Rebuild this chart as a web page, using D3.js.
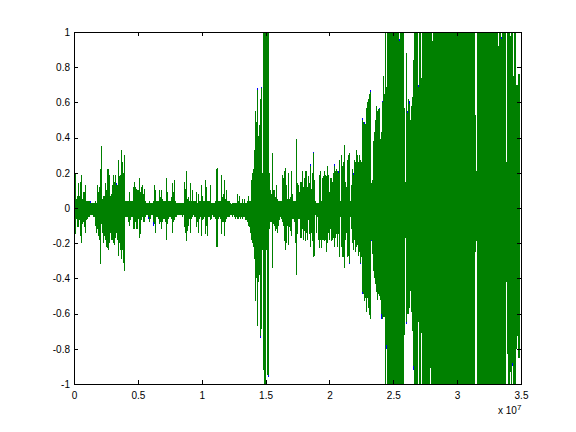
<!DOCTYPE html>
<html><head><meta charset="utf-8">
<script src="https://cdn.jsdelivr.net/npm/d3@7"></script>
<style>
html,body{margin:0;padding:0;background:#fff}
svg{display:block}
text{font-family:"Liberation Sans",Arial,sans-serif;font-size:10px;fill:#000}
</style></head><body><div id="chart"></div>
<script>
const xTicks=[0,0.5e7,1e7,1.5e7,2e7,2.5e7,3e7,3.5e7];
const xTickLabels=["0","0.5","1","1.5","2","2.5","3","3.5"];
const yTicks=[-1,-0.8,-0.6,-0.4,-0.2,0,0.2,0.4,0.6,0.8,1];
const yTickLabels=["-1","-0.8","-0.6","-0.4","-0.2","0","0.2","0.4","0.6","0.8","1"];
const sampleStep=3.5e7/447;
// envelope per sample bin, in hundredths of full scale
const upperEnvelope=[
20,20,5,7,14,7,15,19,5,9,9,13,4,4,4,4,3,3,3,3,
3,4,3,13,9,12,22,35,5,7,7,14,10,22,22,19,7,8,13,19,
15,19,13,13,27,18,19,33,26,20,30,4,4,4,4,9,4,4,4,12,
15,12,11,10,10,17,9,12,13,8,11,4,3,3,3,4,3,3,3,4,
13,10,4,4,4,10,6,10,5,4,4,4,17,9,4,4,4,6,14,9,
16,4,3,3,3,3,3,3,3,3,15,11,21,5,6,4,14,4,10,4,
4,4,9,3,8,4,4,13,7,4,4,16,12,4,4,4,13,3,3,3,
3,4,22,23,4,4,4,19,6,8,16,5,10,4,4,4,3,2,3,3,
3,3,3,8,4,7,3,3,5,3,5,3,3,4,7,4,4,16,20,22,
33,55,49,67,41,47,62,68,20,100,100,100,98,100,100,20,10,8,31,10,
10,6,13,5,4,4,4,4,19,17,21,23,13,5,20,5,6,21,8,4,
4,4,39,14,13,9,15,15,21,12,17,21,21,12,18,14,24,11,20,31,
16,4,3,3,3,19,21,4,17,18,21,19,18,24,19,9,17,17,15,20,
24,21,22,21,20,27,4,30,24,26,36,15,12,27,30,31,4,13,22,19,
27,26,33,30,26,30,27,26,50,49,48,48,57,60,62,65,66,14,16,38,
43,50,58,55,56,56,39,43,60,75,65,100,69,100,100,100,100,100,100,100,
100,100,100,100,100,95,100,100,100,100,57,15,88,54,62,59,50,58,63,84,
100,100,100,100,69,100,100,74,100,100,100,100,100,100,100,100,100,100,95,100,
100,100,100,100,100,100,100,100,100,100,100,100,100,100,100,100,100,100,100,100,
100,100,100,100,100,100,100,100,100,100,100,100,100,100,100,100,100,100,100,100,
100,53,21,100,100,100,100,100,100,100,100,100,100,100,100,100,100,100,100,100,
100,100,100,100,92,100,100,96,100,100,100,100,26,100,100,100,98,100,100,75,
100,100,70,70,76,76];
const lowerEnvelope=[
15,15,6,11,11,7,16,20,9,8,11,14,7,6,5,5,4,4,4,5,
5,10,14,12,16,18,32,9,14,20,16,18,22,23,24,20,14,18,18,20,
21,17,14,18,27,20,24,29,24,31,36,5,5,5,8,10,7,5,5,12,
12,8,12,12,6,17,15,7,5,8,8,5,4,4,5,8,6,4,4,8,
9,14,5,5,6,9,8,12,8,6,6,8,18,9,6,5,5,6,14,8,
7,5,5,4,4,4,4,4,5,4,11,14,19,13,10,6,14,6,5,4,
5,5,11,8,14,6,5,16,7,6,5,15,10,16,5,5,7,6,4,5,
5,6,22,22,6,5,6,15,8,8,16,8,6,5,5,5,4,4,5,4,
5,6,5,6,6,5,6,5,6,5,5,7,7,8,10,11,14,18,20,22,
29,53,40,67,42,38,73,69,24,92,100,100,24,95,95,12,8,8,34,9,
10,13,12,14,10,7,5,6,8,10,19,24,20,10,21,11,13,16,6,6,
8,20,38,15,6,6,17,17,12,18,13,19,14,18,7,15,22,14,19,28,
27,4,14,5,18,23,18,23,18,18,19,18,25,20,14,18,12,19,18,17,
22,17,15,22,15,28,5,22,28,28,34,18,14,28,27,31,5,12,20,24,
18,25,22,21,27,25,31,28,48,49,53,51,59,51,57,61,63,18,26,36,
40,43,48,52,49,50,52,60,63,62,62,100,78,100,100,100,100,100,100,100,
100,100,100,100,100,100,100,100,100,100,72,17,65,60,60,57,47,59,70,90,
100,100,100,100,65,100,100,71,100,100,100,100,100,100,100,100,91,100,100,100,
100,100,100,100,100,100,100,100,100,100,100,100,100,100,100,100,100,100,100,100,
100,100,100,100,100,100,100,100,100,100,100,100,100,100,100,100,100,100,100,100,
100,25,19,100,100,100,100,100,100,100,100,100,100,100,100,100,100,100,100,100,
100,100,100,100,100,100,100,100,100,100,100,100,42,83,100,100,93,100,88,100,
100,100,80,73,85,85];
// second (blue) channel: the few bins where it pokes past the green one
const blueUpperBins=[16,42,183,187,236,239,260,264,279,288,290,296,305,308,325,333,335,344,427];
const blueUpperVals=[4,14,68,69,25,32,25,21,20,51,49,67,57,61,96,55,61,70,97];
const blueLowerBins=[8,74,79,186,190,194,275,286,288,297,307,312,332,339,350,438];
const blueLowerVals=[9,6,10,74,70,96,32,32,49,19,63,80,66,92,100,90];

const margin={left:74,top:32,right:55,bottom:48},W=576,H=432;
const x=d3.scaleLinear().domain([0,3.5e7]).range([margin.left,W-margin.right]);
const y=d3.scaleLinear().domain([-1,1]).range([H-margin.bottom,margin.top]);
const svg=d3.select("#chart").append("svg").attr("width",W).attr("height",H);
const px=i=>Math.floor(x(i*sampleStep)+1e-6)+0.5;
const col=(g,c,data)=>g.selectAll("line").data(data).join("line")
  .attr("x1",d=>px(d.i)).attr("x2",d=>px(d.i))
  .attr("y1",d=>Math.round(y(d.hi))).attr("y2",d=>Math.round(y(d.lo)))
  .attr("stroke",c).attr("stroke-width",1).attr("shape-rendering","crispEdges");

const blue=svg.append("g");
const blueData=[
 ...blueUpperBins.map((b,k)=>({i:b,hi:blueUpperVals[k]/100,lo:upperEnvelope[b]/100})),
 ...blueLowerBins.map((b,k)=>({i:b,hi:-lowerEnvelope[b]/100,lo:-blueLowerVals[k]/100}))];
col(blue,"#0000ff",blueData);
const green=svg.append("g");
col(green,"#008000",upperEnvelope.map((u,i)=>({i,hi:u/100,lo:-lowerEnvelope[i]/100})));

const fmtX=d=>xTickLabels[xTicks.indexOf(d)];
const fmtY=d=>yTickLabels[yTicks.indexOf(d)];
const gB=svg.append("g").attr("transform",`translate(0,${H-margin.bottom})`)
 .call(d3.axisBottom(x).tickValues(xTicks).tickFormat(fmtX).tickSizeInner(-4).tickSizeOuter(0).tickPadding(8));
const gT=svg.append("g").attr("transform",`translate(0,${margin.top})`)
 .call(d3.axisTop(x).tickValues(xTicks).tickFormat("").tickSizeInner(-4).tickSizeOuter(0));
const gL=svg.append("g").attr("transform",`translate(${margin.left},0)`)
 .call(d3.axisLeft(y).tickValues(yTicks).tickFormat(fmtY).tickSizeInner(-4).tickSizeOuter(0).tickPadding(4));
const gR=svg.append("g").attr("transform",`translate(${W-margin.right},0)`)
 .call(d3.axisRight(y).tickValues(yTicks).tickFormat("").tickSizeInner(-4).tickSizeOuter(0));
[gB,gT,gL,gR].forEach(g=>{g.selectAll("line").attr("stroke","#000").attr("shape-rendering","crispEdges");
 g.select(".domain").attr("stroke","#000").attr("shape-rendering","crispEdges");
 g.selectAll("text").style("font-size","10px").style("font-family",'"Liberation Sans",Arial,sans-serif');});
const mult=svg.append("text").attr("x",498).attr("y",414);
mult.append("tspan").text("x 10");
mult.append("tspan").attr("dy",-4).attr("font-size",8).style("font-size","8px").text("7");
</script></body></html>
